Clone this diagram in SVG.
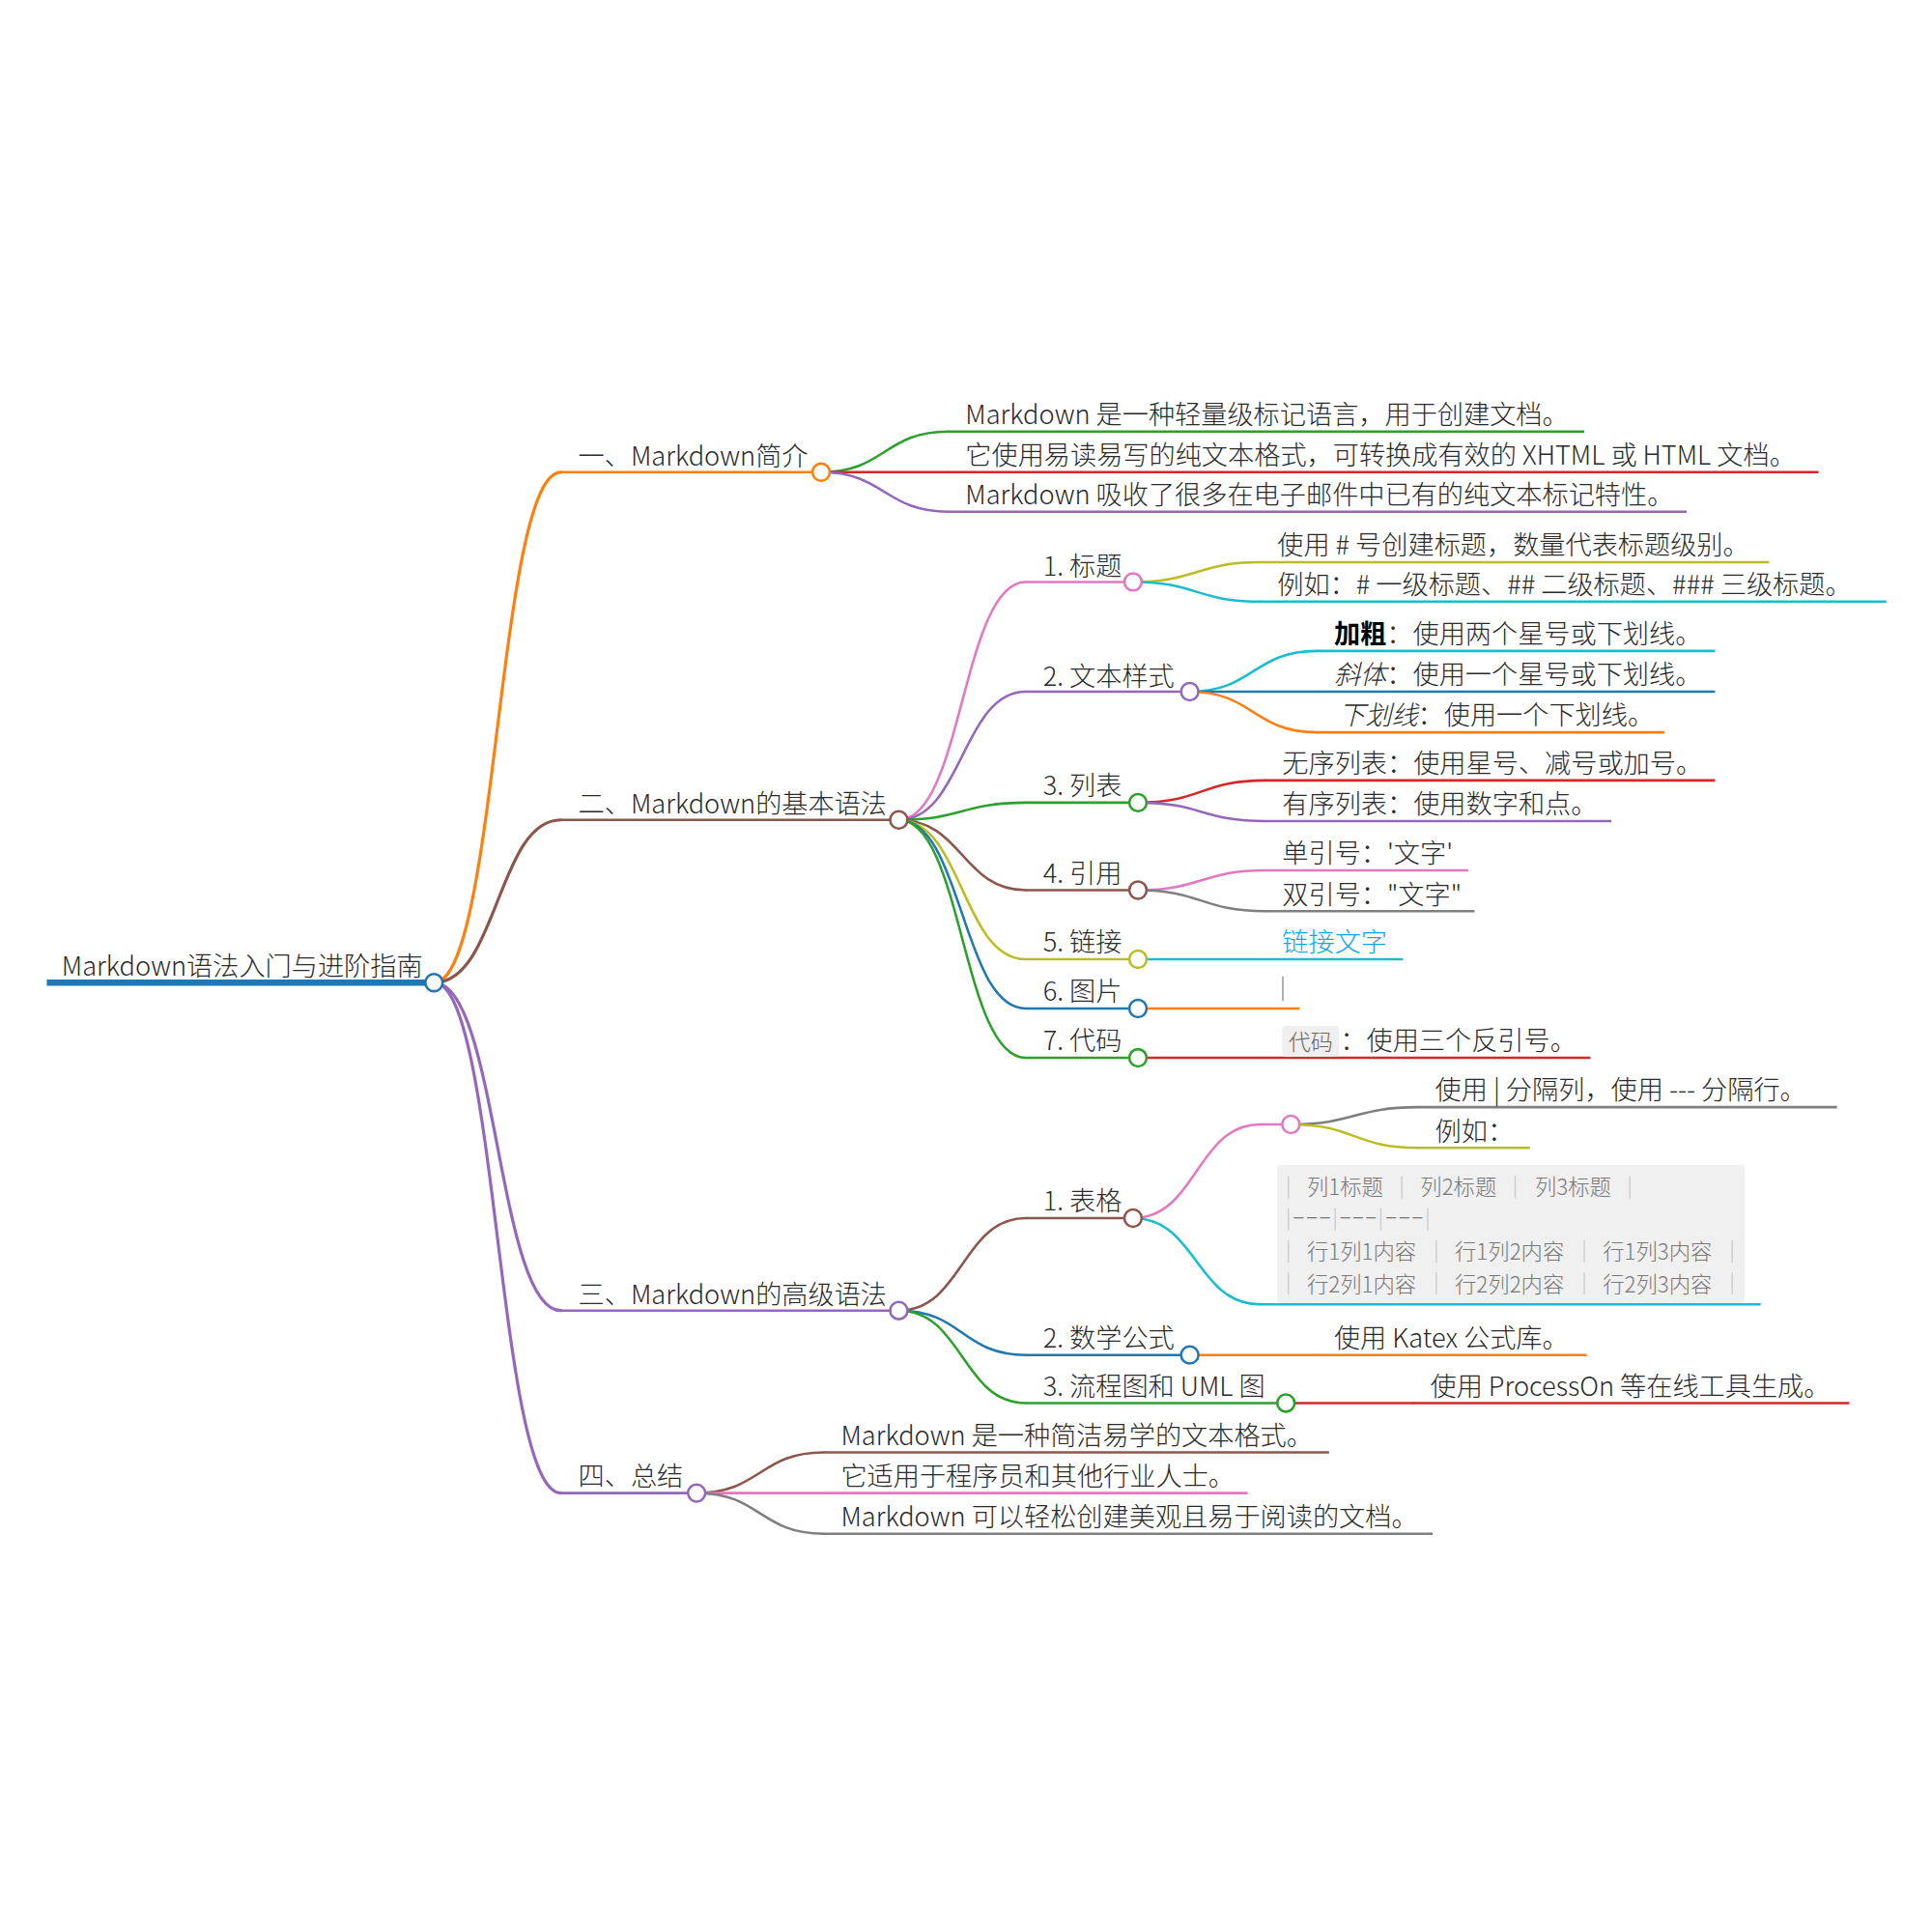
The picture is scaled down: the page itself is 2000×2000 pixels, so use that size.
<svg xmlns="http://www.w3.org/2000/svg" width="2000" height="2000" viewBox="0 0 2000 2000">
<style>
text { font-family: "Noto Sans CJK SC", "Noto Sans", sans-serif; font-weight: 200; font-size: 21.3px; fill: #2a2a2a; }
.l { fill: none; stroke-width: 2; stroke-linecap: round; }
.d1 { stroke-width: 2.5; }
.u { fill: none; stroke-width: 2; }
circle { fill: #fff; stroke-width: 2; }
.blue { stroke: #1f77b4; } .orange { stroke: #ff7f0e; } .green { stroke: #2ca02c; } .red { stroke: #d62728; }
.purple { stroke: #9467bd; } .brown { stroke: #8c564b; } .pink { stroke: #e377c2; } .gray { stroke: #7f7f7f; }
.olive { stroke: #bcbd22; } .cyan { stroke: #17becf; }
.t { font-size: 17.5px; fill: #777; }
.tp { stroke: #cfcfcf; stroke-width: 1.2; }
</style>
<rect width="2000" height="2000" fill="#fff"/>
<g transform="scale(1.2763)">
<g id="connectors">
  <path class="l d1 orange" d="M352 797 C403.5 797 403.5 383 455 383"/>
  <path class="l d1 brown" d="M352 797 C403.5 797 403.5 665 455 665"/>
  <path class="l d1 purple" d="M352 797 C403.5 797 403.5 1063 455 1063"/>
  <path class="l d1 purple" d="M352 797 C403.5 797 403.5 1211 455 1211"/>
  <path class="l green" d="M666 383 C717.5 383 717.5 350 769 350"/>
  <path class="l red" d="M666 383 L769 383"/>
  <path class="l purple" d="M666 383 C717.5 383 717.5 415 769 415"/>
  <path class="l pink" d="M729 665 C780.5 665 780.5 472 832 472"/>
  <path class="l purple" d="M729 665 C780.5 665 780.5 561 832 561"/>
  <path class="l green" d="M729 665 C780.5 665 780.5 651 832 651"/>
  <path class="l brown" d="M729 665 C780.5 665 780.5 722 832 722"/>
  <path class="l olive" d="M729 665 C780.5 665 780.5 778 832 778"/>
  <path class="l blue" d="M729 665 C780.5 665 780.5 818 832 818"/>
  <path class="l green" d="M729 665 C780.5 665 780.5 858 832 858"/>
  <path class="l olive" d="M919 472 C970.5 472 970.5 456 1022 456"/>
  <path class="l cyan" d="M919 472 C970.5 472 970.5 488 1022 488"/>
  <path class="l cyan" d="M965 561 C1016.5 561 1016.5 528 1068 528"/>
  <path class="l blue" d="M965 561 L1068 561"/>
  <path class="l orange" d="M965 561 C1016.5 561 1016.5 594 1068 594"/>
  <path class="l red" d="M923 651 C974.5 651 974.5 633 1026 633"/>
  <path class="l purple" d="M923 651 C974.5 651 974.5 666 1026 666"/>
  <path class="l pink" d="M923 722 C974.5 722 974.5 706 1026 706"/>
  <path class="l gray" d="M923 722 C974.5 722 974.5 739 1026 739"/>
  <path class="l cyan" d="M923 778 L1026 778"/>
  <path class="l orange" d="M923 818 L1026 818"/>
  <path class="l red" d="M923 858 L1026 858"/>
  <path class="l brown" d="M729 1063 C780.5 1063 780.5 988 832 988"/>
  <path class="l blue" d="M729 1063 C780.5 1063 780.5 1099 832 1099"/>
  <path class="l green" d="M729 1063 C780.5 1063 780.5 1138 832 1138"/>
  <path class="l pink" d="M919 988 C970.5 988 970.5 912 1022 912"/>
  <path class="l cyan" d="M919 988 C970.5 988 970.5 1058 1022 1058"/>
  <path class="l gray" d="M1047 912 C1098.5 912 1098.5 898 1150 898"/>
  <path class="l olive" d="M1047 912 C1098.5 912 1098.5 931 1150 931"/>
  <path class="l orange" d="M965 1099 L1068 1099"/>
  <path class="l red" d="M1043 1138 L1146 1138"/>
  <path class="l brown" d="M565 1211 C616.5 1211 616.5 1178 668 1178"/>
  <path class="l pink" d="M565 1211 L668 1211"/>
  <path class="l gray" d="M565 1211 C616.5 1211 616.5 1244 668 1244"/>
</g>

<g id="root">
  <path class="u blue" style="stroke-width:5" d="M38 797 H352"/>
  <text x="50" y="791">Markdown语法入门与进阶指南</text>
  <circle class="blue" cx="352" cy="797" r="7"/>
</g>

<g id="b1">
  <path class="u orange d1" d="M455 383 H666"/>
  <text x="469" y="378">一、Markdown简介</text>
  <circle class="orange" cx="666" cy="383" r="7"/>
</g>
<g id="b1-1"><path class="u green" d="M769 350 H1285"/><text x="783" y="344">Markdown 是一种轻量级标记语言，用于创建文档。</text></g>
<g id="b1-2"><path class="u red" d="M769 383 H1475"/><text x="783" y="377">它使用易读易写的纯文本格式，可转换成有效的 XHTML 或 HTML 文档。</text></g>
<g id="b1-3"><path class="u purple" d="M769 415 H1368"/><text x="783" y="409">Markdown 吸收了很多在电子邮件中已有的纯文本标记特性。</text></g>

<g id="b2">
  <path class="u brown d1" d="M455 665 H729"/>
  <text x="469" y="660">二、Markdown的基本语法</text>
  <circle class="brown" cx="729" cy="665" r="7"/>
</g>
<g id="b2-1">
  <path class="u pink" d="M832 472 H919"/>
  <text x="846" y="467">1. 标题</text>
  <circle class="pink" cx="919" cy="472" r="7"/>
</g>
<g id="b2-1-1"><path class="u olive" d="M1022 456 H1435"/><text x="1036" y="450">使用 # 号创建标题，数量代表标题级别。</text></g>
<g id="b2-1-2"><path class="u cyan" d="M1022 488 H1530"/><text x="1036" y="482">例如：# 一级标题、## 二级标题、### 三级标题。</text></g>

<g id="b2-2">
  <path class="u purple" d="M832 561 H965"/>
  <text x="846" y="556">2. 文本样式</text>
  <circle class="purple" cx="965" cy="561" r="7"/>
</g>
<g id="b2-2-1"><path class="u cyan" d="M1068 528 H1391"/><text x="1082" y="522"><tspan style="font-weight:700;fill:#000">加粗</tspan>：使用两个星号或下划线。</text></g>
<g id="b2-2-2"><path class="u blue" d="M1068 561 H1391"/><text x="1082" y="555"><tspan style="font-style:italic">斜体</tspan>：使用一个星号或下划线。</text></g>
<g id="b2-2-3"><path class="u orange" d="M1068 594 H1350"/><text x="1086" y="588"><tspan style="font-style:italic">下划线</tspan>：使用一个下划线。</text></g>

<g id="b2-3">
  <path class="u green" d="M832 651 H923"/>
  <text x="846" y="645">3. 列表</text>
  <circle class="green" cx="923" cy="651" r="7"/>
</g>
<g id="b2-3-1"><path class="u red" d="M1026 633 H1391"/><text x="1040" y="627">无序列表：使用星号、减号或加号。</text></g>
<g id="b2-3-2"><path class="u purple" d="M1026 666 H1307"/><text x="1040" y="660">有序列表：使用数字和点。</text></g>

<g id="b2-4">
  <path class="u brown" d="M832 722 H923"/>
  <text x="846" y="716">4. 引用</text>
  <circle class="brown" cx="923" cy="722" r="7"/>
</g>
<g id="b2-4-1"><path class="u pink" d="M1026 706 H1191"/><text x="1040" y="700">单引号：'文字'</text></g>
<g id="b2-4-2"><path class="u gray" d="M1026 739 H1196"/><text x="1040" y="733">双引号："文字"</text></g>

<g id="b2-5">
  <path class="u olive" d="M832 778 H923"/>
  <text x="846" y="772">5. 链接</text>
  <circle class="olive" cx="923" cy="778" r="7"/>
</g>
<g id="b2-5-1"><path class="u cyan" d="M1026 778 H1138"/><text x="1040" y="772" style="fill:#0ea5e9">链接文字</text></g>

<g id="b2-6">
  <path class="u blue" d="M832 818 H923"/>
  <text x="846" y="812">6. 图片</text>
  <circle class="blue" cx="923" cy="818" r="7"/>
</g>
<g id="b2-6-1"><path class="u orange" d="M1026 818 H1054"/><path d="M1040.5 792 V812" stroke="#9a9a9a" stroke-width="1.2"/></g>

<g id="b2-7">
  <path class="u green" d="M832 858 H923"/>
  <text x="846" y="852">7. 代码</text>
  <circle class="green" cx="923" cy="858" r="7"/>
</g>
<g id="b2-7-1">
  <path class="u red" d="M1026 858 H1290"/>
  <rect x="1040" y="832" width="46" height="25" rx="3" fill="#efefef"/>
  <text x="1045" y="852" style="font-size:18px;fill:#666">代码</text>
  <text x="1087" y="852">：使用三个反引号。</text>
</g>

<g id="b3">
  <path class="u purple d1" d="M455 1063 H729"/>
  <text x="469" y="1058">三、Markdown的高级语法</text>
  <circle class="purple" cx="729" cy="1063" r="7"/>
</g>
<g id="b3-1">
  <path class="u brown" d="M832 988 H919"/>
  <text x="846" y="982">1. 表格</text>
  <circle class="brown" cx="919" cy="988" r="7"/>
</g>
<g id="b3-1-1">
  <path class="u pink" d="M1022 912 H1047"/>
  <circle class="pink" cx="1047" cy="912" r="7"/>
</g>
<g id="b3-1-1-1"><path class="u gray" d="M1150 898 H1490"/><text x="1164" y="892">使用 | 分隔列，使用 --- 分隔行。</text></g>
<g id="b3-1-1-2"><path class="u olive" d="M1150 931 H1241"/><text x="1164" y="925">例如：</text></g>
<g id="b3-1-2">
  <path class="u cyan" d="M1022 1058 H1428"/>
  <rect x="1036" y="945" width="379" height="112" rx="3" fill="#f0f0f0"/>
  <g class="tp">
    <path d="M1045 954 V972 M1137 954 V972 M1229 954 V972 M1322 954 V972"/>
    <path d="M1045 980 V998 M1083 980 V998 M1120 980 V998 M1158 980 V998"/>
    <path d="M1045 1006 V1024 M1165 1006 V1024 M1285 1006 V1024 M1405 1006 V1024"/>
    <path d="M1045 1032 V1050 M1165 1032 V1050 M1285 1032 V1050 M1405 1032 V1050"/>
  </g>
  <text class="t" x="1060" y="969">列1标题</text>
  <text class="t" x="1152" y="969">列2标题</text>
  <text class="t" x="1245" y="969">列3标题</text>
  <text class="t" x="1048" y="993" textLength="32" lengthAdjust="spacingAndGlyphs">---</text>
  <text class="t" x="1086" y="993" textLength="31" lengthAdjust="spacingAndGlyphs">---</text>
  <text class="t" x="1123" y="993" textLength="32" lengthAdjust="spacingAndGlyphs">---</text>
  <text class="t" x="1060" y="1022">行1列1内容</text>
  <text class="t" x="1180" y="1022">行1列2内容</text>
  <text class="t" x="1300" y="1022">行1列3内容</text>
  <text class="t" x="1060" y="1048">行2列1内容</text>
  <text class="t" x="1180" y="1048">行2列2内容</text>
  <text class="t" x="1300" y="1048">行2列3内容</text>
</g>
<g id="b3-2">
  <path class="u blue" d="M832 1099 H965"/>
  <text x="846" y="1093">2. 数学公式</text>
  <circle class="blue" cx="965" cy="1099" r="7"/>
</g>
<g id="b3-2-1"><path class="u orange" d="M1068 1099 H1287"/><text x="1082" y="1093">使用 Katex 公式库。</text></g>
<g id="b3-3">
  <path class="u green" d="M832 1138 H1043"/>
  <text x="846" y="1132">3. 流程图和 UML 图</text>
  <circle class="green" cx="1043" cy="1138" r="7"/>
</g>
<g id="b3-3-1"><path class="u red" d="M1146 1138 H1500"/><text x="1160" y="1132">使用 ProcessOn 等在线工具生成。</text></g>

<g id="b4">
  <path class="u purple d1" d="M455 1211 H565"/>
  <text x="469" y="1205">四、总结</text>
  <circle class="purple" cx="565" cy="1211" r="7"/>
</g>
<g id="b4-1"><path class="u brown" d="M668 1178 H1078"/><text x="682" y="1172">Markdown 是一种简洁易学的文本格式。</text></g>
<g id="b4-2"><path class="u pink" d="M668 1211 H1012"/><text x="682" y="1205">它适用于程序员和其他行业人士。</text></g>
<g id="b4-3"><path class="u gray" d="M668 1244 H1162"/><text x="682" y="1238">Markdown 可以轻松创建美观且易于阅读的文档。</text></g>
</g>
</svg>
